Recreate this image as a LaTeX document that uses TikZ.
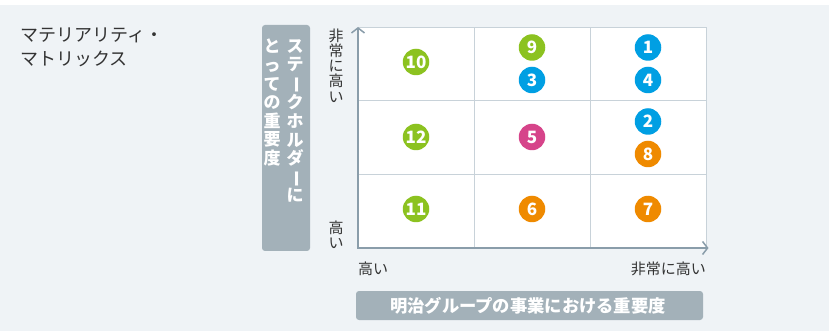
\documentclass[tikz,border=0pt]{standalone}
\usepackage{fontspec}
\usepackage{graphicx}
\setmainfont{Noto Sans CJK JP}
\usetikzlibrary{arrows.meta}
\definecolor{panel}{HTML}{EFF3F6}
\definecolor{gridc}{HTML}{C8D2D9}
\definecolor{axisc}{HTML}{8A9DAA}
\definecolor{boxc}{HTML}{A3B1B9}
\definecolor{txt}{HTML}{333333}
\definecolor{cgreen}{HTML}{8CC220}
\definecolor{cblue}{HTML}{009FE3}
\definecolor{cmag}{HTML}{D6448A}
\definecolor{corange}{HTML}{EF8A00}
\newcommand\vlong{\rotatebox[origin=c]{-90}{ー}}
\tikzset{
  num/.style={circle, minimum size=26.5pt, inner sep=0pt, text=white, font=\fontsize{17}{17}\selectfont\bfseries},
  ng/.style={num, fill=cgreen},
  nb/.style={num, fill=cblue},
  nm/.style={num, fill=cmag},
  no/.style={num, fill=corange},
  lbl/.style={text=txt, inner sep=0pt, font=\fontsize{15}{15}\selectfont},
  vlbl/.style={text=txt, inner sep=0pt, align=center, font=\fontsize{15}{15.2}\selectfont},
  greybox/.style={fill=boxc, rounded corners=3pt, draw=none},
  vtext/.style={text=white, inner sep=0pt, align=center, font=\fontsize{17}{18.6}\selectfont\bfseries},
  gridline/.style={draw=gridc, line width=1pt},
  axisline/.style={draw=axisc, line width=2pt, -{Straight Barb[length=5pt,width=13pt,line width=1.5pt]}}
}
\begin{document}
\begin{tikzpicture}[x=1pt,y=-1pt]
\useasboundingbox (0,0) rectangle (838,331);
\fill[white] (0,0) rectangle (838,331);
\fill[panel] (0,5) rectangle (829,331);
% title
\node[anchor=west, text=txt, inner sep=0pt, font=\fontsize{18}{18}\selectfont] (t1) at (20,35.5) {マテリアリティ・};
\node[anchor=west, text=txt, inner sep=0pt, font=\fontsize{18}{18}\selectfont] (t2) at (20,58.5) {マトリックス};
% grid
\fill[white] (358,28) rectangle (706,248);
\draw[gridline] (358,28) rectangle (706,248);
\draw[gridline] (474,28) -- (474,248);
\draw[gridline] (590,28) -- (590,248);
\draw[gridline] (358,101) -- (706,101);
\draw[gridline] (358,175) -- (706,175);
% axes
\coordinate (o) at (358,248);
\coordinate (ytop) at (358,27);
\coordinate (xend) at (708.5,248);
\draw[axisline] ([yshift=-1pt]o) -- (ytop);
\draw[axisline] ([xshift=-1pt]o) -- (xend);
% axis labels
\node[vlbl, anchor=north] (yhi) at (336,28.5) {非\\常\\に\\高\\い};
\node[vlbl, anchor=south] (ylo) at (336,249) {高\\い};
\node[lbl, anchor=west] (xlo) at (358,269) {高い};
\node[lbl, anchor=east] (xhi) at (706,269) {非常に高い};
% vertical box
\fill[greybox] (262,25) rectangle (310,251);
\node[vtext, anchor=north] (v1) at (295,39) {ス\\テ\\\vlong\\ク\\ホ\\ル\\ダ\\\vlong\\に};
\node[vtext, anchor=north] (v2) at (272,39) {と\\っ\\て\\の\\重\\要\\度};
% bottom box
\fill[greybox] (356,291) rectangle (703,320);
\node[text=white, inner sep=0pt, font=\fontsize{17.3}{17.3}\selectfont\bfseries] (hb) at (528,306) {明治グループの事業における重要度};
% circles
\node[ng] (n10) at (416,62) {10};
\node[ng] (n9) at (532,47.5) {9};
\node[nb] (n3) at (532,80) {3};
\node[nb] (n1) at (648,47.5) {1};
\node[nb] (n4) at (648,80) {4};
\node[ng] (n12) at (416,137) {12};
\node[nm] (n5) at (532,137) {5};
\node[nb] (n2) at (648,121.5) {2};
\node[no] (n8) at (648,154) {8};
\node[ng] (n11) at (416,209) {11};
\node[no] (n6) at (532,209) {6};
\node[no] (n7) at (648,209) {7};
\end{tikzpicture}
\end{document}
